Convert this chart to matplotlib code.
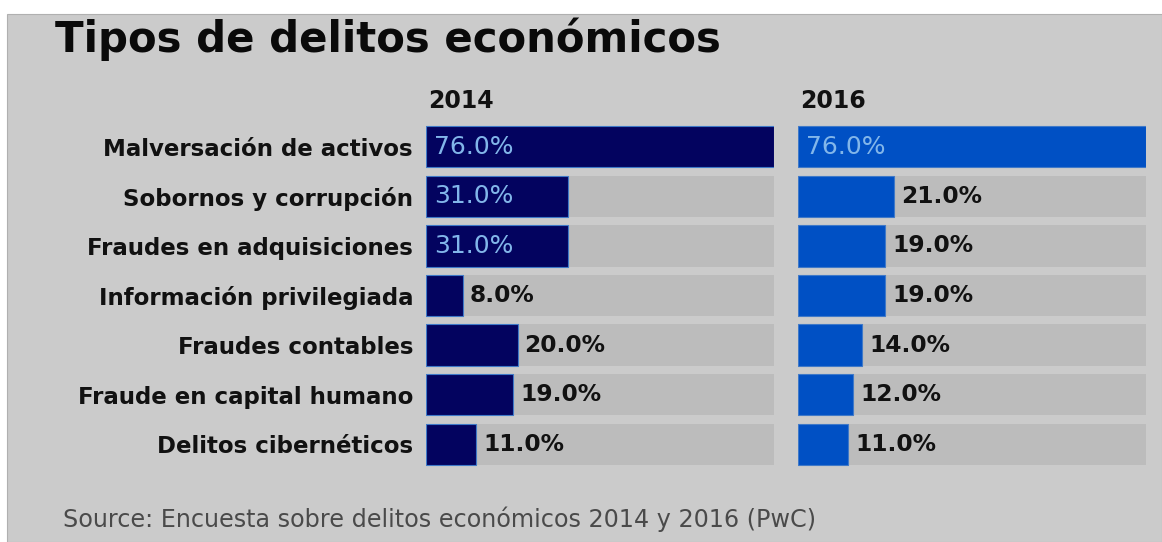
import matplotlib
matplotlib.use("Agg")
import matplotlib.pyplot as plt
from matplotlib.patches import Rectangle

# Data
categories = [
    "Malversación de activos",
    "Sobornos y corrupción",
    "Fraudes en adquisiciones",
    "Información privilegiada",
    "Fraudes contables",
    "Fraude en capital humano",
    "Delitos cibernéticos",
]
values_2014 = [76.0, 31.0, 31.0, 8.0, 20.0, 19.0, 11.0]
values_2016 = [76.0, 21.0, 19.0, 19.0, 14.0, 12.0, 11.0]
years = ["2014", "2016"]
title = "Tipos de delitos económicos"
source = "Source: Encuesta sobre delitos económicos 2014 y 2016 (PwC)"

W, H = 1162, 542
fig = plt.figure(figsize=(W / 100, H / 100), dpi=100, facecolor="white")
plt.rcParams["font.family"] = ["DejaVu Sans"]

panel_bg = "#cbcbcb"
track_col = "#bcbcbc"
colors = ["#03035f", "#0050c4"]
inner_text = "#82b6ea"

# grey panel behind everything
fig.patches.append(Rectangle((7 / W, 0), 1 - 7 / W, 1 - 14 / H, transform=fig.transFigure,
                             facecolor=panel_bg, edgecolor="#b0b0b0", linewidth=0.8,
                             zorder=-10))

def px(x, y):
    return x / W, 1 - y / H

top_px, bot_px = 122.0, 469.0
lefts = [426, 798]
width_px = 348
vmax = max(max(values_2014), max(values_2016))
n = len(categories)

for k, (vals, yr) in enumerate(zip([values_2014, values_2016], years)):
    ax = fig.add_axes([lefts[k] / W, 1 - bot_px / H, width_px / W, (bot_px - top_px) / H])
    ax.set_facecolor("none")
    ax.set_zorder(5)
    ypos = list(range(n))
    ax.barh(ypos, [vmax] * n, height=0.83, color=track_col, linewidth=0, zorder=1)
    ax.barh(ypos, vals, height=0.83, color=colors[k], edgecolor="#3f79c8",
            linewidth=0.8, zorder=2)
    ax.set_xlim(0, vmax)
    ax.set_ylim(n - 0.5, -0.5)
    for s in ax.spines.values():
        s.set_visible(False)
    ax.tick_params(left=False, bottom=False, labelbottom=False)
    if k == 0:
        ax.set_yticks(ypos)
        ax.set_yticklabels(categories, fontsize=16.5, fontweight="bold", color="#111111")
        ax.tick_params(axis="y", pad=5.8)
    else:
        ax.set_yticks([])
    for i, v in enumerate(vals):
        label = f"{v:.1f}%"
        if v >= 30:
            ax.annotate(label, (0, i), xytext=(8, 0), textcoords="offset pixels",
                        va="center", ha="left", fontsize=18, color=inner_text, zorder=3)
        else:
            ax.annotate(label, (v, i), xytext=(7, 0), textcoords="offset pixels",
                        va="center", ha="left", fontsize=16.8, fontweight="bold",
                        color="#111111", zorder=3)
    fig.text(*px(lefts[k] + 2, 108), yr, fontsize=17, fontweight="bold",
             color="#111111", ha="left", va="baseline")

fig.text(*px(55, 52), title, fontsize=30.2, fontweight="bold", color="#0a0a0a",
         ha="left", va="baseline")
fig.text(*px(63, 527), source, fontsize=17.2, color="#4a4a4a", ha="left", va="baseline")

fig.savefig("out.png", dpi=100, facecolor="white")
